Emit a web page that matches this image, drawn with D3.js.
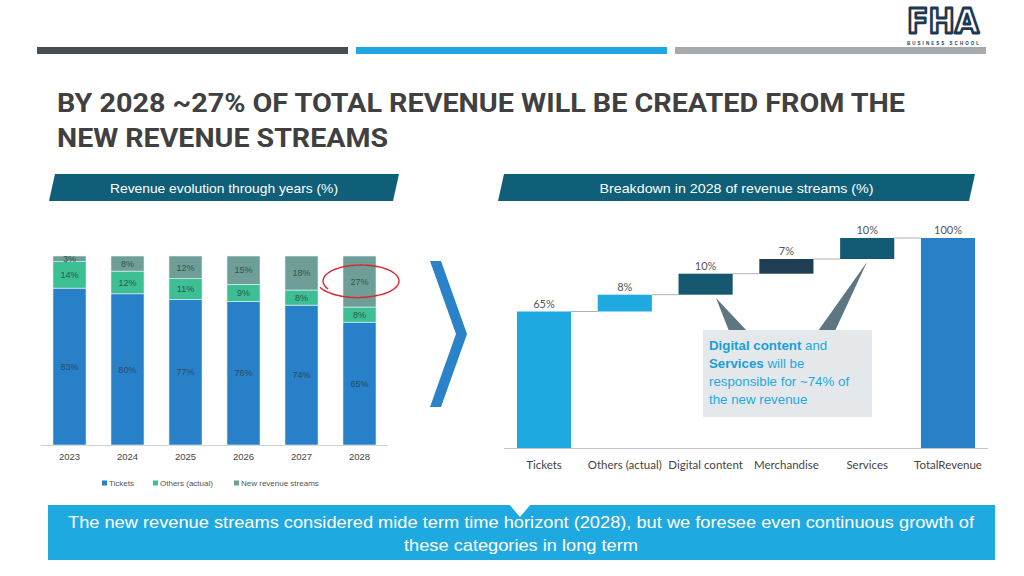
<!DOCTYPE html>
<html><head><meta charset="utf-8">
<script src="https://cdn.jsdelivr.net/npm/d3@7"></script>
<style>html,body{margin:0;padding:0;background:#fff;}svg{display:block;}</style>
</head><body>
<script>
// ---- data ----
const years = ['2023','2024','2025','2026','2027','2028'];
const tickets = [83,80,77,76,74,65];
const others = [14,12,11,9,8,8];
const newStreams = [3,8,12,15,18,27];
const seriesNames = ['Tickets','Others (actual)','New revenue streams'];

const wfCategories = ['Tickets','Others (actual)','Digital content','Merchandise','Services','TotalRevenue'];
const wfValues = [65,8,10,7,10,100];

const W = 1024, H = 576;
const svg = d3.select('body').append('svg').attr('width',W).attr('height',H);
const FONT = "'Liberation Sans', Arial, sans-serif";

// ---- top decorative bars ----
svg.append('rect').attr('x',37).attr('y',47).attr('width',311).attr('height',7).attr('fill','#474d52');
svg.append('rect').attr('x',356).attr('y',47).attr('width',311).attr('height',7).attr('fill','#1ea7e1');
svg.append('rect').attr('x',675).attr('y',47).attr('width',311).attr('height',7).attr('fill','#a7aaac');

// ---- logo ----
svg.append('text').attr('x',943).attr('y',33).attr('text-anchor','middle')
  .attr('font-family',"'DejaVu Sans', sans-serif").attr('font-weight','bold').attr('font-size',33)
  .attr('textLength',72).attr('lengthAdjust','spacingAndGlyphs')
  .attr('fill','#fff').attr('stroke','#1c3954').attr('stroke-width',2.8).attr('stroke-linejoin','round').text('FHA');
svg.append('text').attr('x',943).attr('y',44.5).attr('text-anchor','middle')
  .attr('font-family',FONT).attr('font-weight','bold').attr('font-size',4.5)
  .attr('textLength',72).attr('lengthAdjust','spacing').attr('fill','#1c3954').text('BUSINESS SCHOOL');

// ---- title ----
const title = svg.append('g').attr('font-family',"Roboto, 'Liberation Sans', sans-serif").attr('font-weight','bold')
  .attr('font-size',26).attr('fill','#404040');
title.append('text').attr('x',57).attr('y',112).attr('textLength',848).attr('lengthAdjust','spacingAndGlyphs')
  .text('BY 2028 ~27% OF TOTAL REVENUE WILL BE CREATED FROM THE');
title.append('text').attr('x',57).attr('y',147).attr('textLength',331).attr('lengthAdjust','spacingAndGlyphs')
  .text('NEW REVENUE STREAMS');

// ---- section headers ----
function header(x0,x1,label,len){
  svg.append('polygon').attr('points',`${x0},201 ${x0+6},174 ${x1},174 ${x1-6},201`).attr('fill','#0f5f79');
  svg.append('text').attr('x',(x0+x1)/2).attr('y',193).attr('text-anchor','middle')
    .attr('font-family',FONT).attr('font-size',13.5).attr('fill','#fff')
    .attr('textLength',len).attr('lengthAdjust','spacingAndGlyphs').text(label);
}
header(49,399,'Revenue evolution through years (%)',228);
header(498,975,'Breakdown in 2028 of revenue streams (%)',274);

// ---- left: stacked bars ----
const colors = ['#2880c8','#3cbf93','#6f9e99'];
const x1 = d3.scaleBand().domain(years).range([40.5,388.5]).paddingInner(0.43).paddingOuter(0.215);
const y1 = d3.scaleLinear().domain([0,100]).range([445,256]);
const rows = years.map((yr,i)=>({year:yr, Tickets:tickets[i], 'Others (actual)':others[i], 'New revenue streams':newStreams[i]}));
const stacked = d3.stack().keys(seriesNames)(rows);
const gL = svg.append('g');
gL.append('line').attr('x1',41).attr('x2',388).attr('y1',445.5).attr('y2',445.5).attr('stroke','#d0d0d0');
stacked.forEach((s,si)=>{
  const g = gL.append('g');
  g.selectAll('rect').data(s).join('rect')
    .attr('x',d=>x1(d.data.year)).attr('width',x1.bandwidth())
    .attr('y',d=>y1(d[1])).attr('height',d=>y1(d[0])-y1(d[1]))
    .attr('fill',colors[si]).attr('stroke','#e8f4f8').attr('stroke-width',0.6);
  g.selectAll('text').data(s).join('text')
    .attr('x',d=>x1(d.data.year)+x1.bandwidth()/2)
    .attr('y',d=>(y1(d[0])+y1(d[1]))/2+3.2)
    .attr('text-anchor','middle').attr('font-family',FONT).attr('font-size',9)
    .attr('fill', si===0 ? '#2c4a66' : '#2f5550')
    .text(d=>(d[1]-d[0])+'%');
});
gL.selectAll('.yl').data(years).join('text')
  .attr('x',d=>x1(d)+x1.bandwidth()/2).attr('y',460).attr('text-anchor','middle')
  .attr('font-family',FONT).attr('font-size',9.5).attr('fill','#444').text(d=>d);

// legend
const legX = [102,153,234];
seriesNames.forEach((n,i)=>{
  svg.append('rect').attr('x',legX[i]).attr('y',480.5).attr('width',5).attr('height',5).attr('fill',colors[i]);
  svg.append('text').attr('x',legX[i]+7).attr('y',486).attr('font-family',FONT).attr('font-size',8)
    .attr('fill','#555').text(n);
});

// red ellipse
(function(){
  const cx=361, cy=281, rx=38, ry=16;
  const pts=[];
  for(let a=150;a<=520;a+=5){
    const t=a*Math.PI/180;
    const k = 1 + (a>430 ? (a-430)/600 : 0);
    pts.push([cx+rx*k*Math.cos(t), cy+ry*k*Math.sin(t)]);
  }
  svg.append('path').attr('d',d3.line().curve(d3.curveBasis)(pts))
    .attr('fill','none').attr('stroke','#d9262c').attr('stroke-width',1.4);
})();

// chevron
svg.append('polygon').attr('points','430,261 441,261 467,334 441,407 430,407 456,334').attr('fill','#2a82c9');

// ---- right: waterfall ----
const x2 = d3.scaleBand().domain(wfCategories).range([503.6,988.4]).paddingInner(0.33).paddingOuter(0.165);
const y2 = d3.scaleLinear().domain([0,100]).range([448,238]);
const wfColors = ['#1fa9e1','#1fa9e1','#14576f','#1f3e51','#135b74','#2a80c6'];
let cum = 0;
const wf = wfCategories.map((c,i)=>{
  let lo, hi;
  if(i===wfCategories.length-1){ lo=0; hi=wfValues[i]; }
  else { lo=cum; hi=cum+wfValues[i]; cum=hi; }
  return {c, v:wfValues[i], lo, hi, color:wfColors[i]};
});
const gR = svg.append('g');
gR.append('line').attr('x1',504).attr('x2',988).attr('y1',448.5).attr('y2',448.5).attr('stroke','#c8c8c8').attr('stroke-width',1.2);
// connectors
wf.slice(0,-1).forEach((d,i)=>{
  const nx = wf[i+1];
  gR.append('line').attr('x1',x2(d.c)+x2.bandwidth()).attr('x2',x2(nx.c))
    .attr('y1',y2(d.hi)).attr('y2',y2(d.hi)).attr('stroke','#b0b0b0').attr('stroke-width',1);
});
gR.selectAll('rect').data(wf).join('rect')
  .attr('x',d=>x2(d.c)).attr('width',x2.bandwidth())
  .attr('y',d=>y2(d.hi)).attr('height',d=>y2(d.lo)-y2(d.hi)).attr('fill',d=>d.color);
gR.selectAll('.vl').data(wf).join('text')
  .attr('x',d=>x2(d.c)+x2.bandwidth()/2).attr('y',d=>y2(d.hi)-4).attr('text-anchor','middle')
  .attr('font-family',"Lato, 'Open Sans', sans-serif").attr('font-size',11).attr('fill','#555').text(d=>d.v+'%');
gR.selectAll('.cl').data(wf).join('text')
  .attr('x',d=>x2(d.c)+x2.bandwidth()/2).attr('y',469).attr('text-anchor','middle')
  .attr('font-family',"Lato, 'Open Sans', sans-serif").attr('font-size',11.5).attr('fill','#444').text(d=>d.c);

// callout
svg.append('polygon').attr('points','716,298 729,331 747,331').attr('fill','#5e7682');
svg.append('polygon').attr('points','867,262 818,331 835,331').attr('fill','#5e7682');
svg.append('rect').attr('x',703).attr('y',330).attr('width',169).attr('height',87).attr('fill','#e4e8ea');
const ct = svg.append('g').attr('font-family',FONT).attr('font-size',13.3).attr('fill','#1fa9e1');
const l1 = ct.append('text').attr('x',709).attr('y',350);
l1.append('tspan').attr('font-weight','bold').attr('fill','#1a9fd8').text('Digital content');
l1.append('tspan').text(' and');
const l2 = ct.append('text').attr('x',709).attr('y',368);
l2.append('tspan').attr('font-weight','bold').attr('fill','#1a9fd8').text('Services');
l2.append('tspan').text(' will be');
ct.append('text').attr('x',709).attr('y',386).text('responsible for ~74% of');
ct.append('text').attr('x',709).attr('y',404).text('the new revenue');

// ---- bottom banner ----
svg.append('rect').attr('x',48).attr('y',505).attr('width',947).attr('height',55).attr('fill','#1fa9e1');
svg.append('polygon').attr('points','509,504 531,504 520,517').attr('fill','#fff');
const bt = svg.append('g').attr('font-family',FONT).attr('font-size',17).attr('fill','#fff').attr('text-anchor','middle');
bt.append('text').attr('x',521).attr('y',528).attr('textLength',906).attr('lengthAdjust','spacingAndGlyphs')
  .text('The new revenue streams considered mide term time horizont (2028), but we foresee even continuous growth of');
bt.append('text').attr('x',521).attr('y',551).attr('textLength',234).attr('lengthAdjust','spacingAndGlyphs')
  .text('these categories in long term');
</script>
</body></html>
